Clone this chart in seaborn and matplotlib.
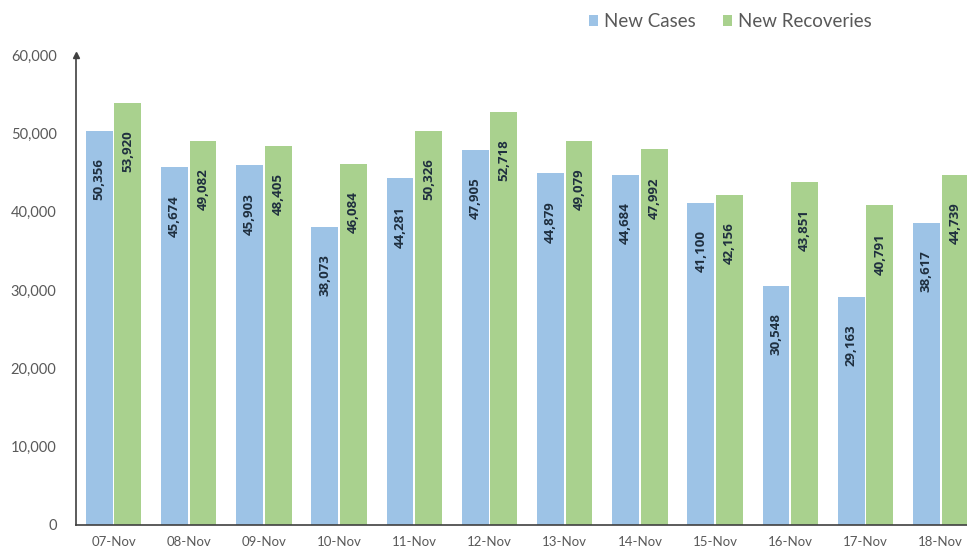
import numpy as np
import pandas as pd
import matplotlib.pyplot as plt
import seaborn as sns

# data
dates = ['07-Nov', '08-Nov', '09-Nov', '10-Nov', '11-Nov', '12-Nov',
         '13-Nov', '14-Nov', '15-Nov', '16-Nov', '17-Nov', '18-Nov']
new_cases = [50356, 45674, 45903, 38073, 44281, 47905,
             44879, 44684, 41100, 30548, 29163, 38617]
new_recoveries = [53920, 49082, 48405, 46084, 50326, 52718,
                  49079, 47992, 42156, 43851, 40791, 44739]
series_names = ['New Cases', 'New Recoveries']
colors = ['#9DC3E6', '#A9D18E']

df = pd.DataFrame({
    'Date': dates * 2,
    'Count': new_cases + new_recoveries,
    'Series': [series_names[0]] * len(dates) + [series_names[1]] * len(dates),
})

sns.set_style("white")
plt.rcParams['font.family'] = ['Lato', 'DejaVu Sans']

fig = plt.figure(figsize=(9.67, 5.59), dpi=100)
ax = fig.add_axes([76 / 967, 34 / 559, (967 - 76) / 967, 470 / 559])

sns.barplot(data=df, x='Date', y='Count', hue='Series', hue_order=series_names,
            palette=colors, width=0.76, gap=0.06, ax=ax, saturation=1, linewidth=0)

# value labels inside the top of each bar
for container in ax.containers:
    labels = ['{:,.0f}'.format(b.get_height()) for b in container]
    ax.bar_label(container, labels=labels, rotation=90, label_type='edge',
                 padding=-50, fontsize=9.5, fontweight='bold', color='#1F2F3F',
                 family=['Open Sans', 'DejaVu Sans'])

ax.set_ylim(0, 60000)
ax.set_xlim(-0.5, 11.35)
ax.set_yticks(np.arange(0, 60001, 10000))
ax.set_yticklabels(['{:,}'.format(v) for v in range(0, 60001, 10000)])
ax.tick_params(axis='y', length=0, pad=14, labelsize=10.5, labelcolor='#595959')
ax.tick_params(axis='x', which='major', length=0, pad=8, labelsize=9.5, labelcolor='#595959')
ax.set_xticks(np.arange(0.5, 11.5, 1), minor=True)
ax.tick_params(axis='x', which='minor', length=4, width=1.2, color='#404040', direction='out')
ax.set_xlabel('')
ax.set_ylabel('')

for side in ['top', 'right']:
    ax.spines[side].set_visible(False)
ax.spines['left'].set_color('#404040')
ax.spines['bottom'].set_color('#404040')
ax.spines['left'].set_linewidth(1.2)
ax.spines['bottom'].set_linewidth(1.2)
ax.plot(0, 1, '^', color='#404040', markersize=4, transform=ax.transAxes, clip_on=False)

ax.legend(loc='upper right', bbox_to_anchor=(0.912, 1.125), ncol=2, frameon=False,
          fontsize=13.5, handlelength=0.5, handleheight=0.5, columnspacing=1.45,
          handletextpad=0.3, labelcolor='#595959')

plt.savefig('out.png', dpi=100)
